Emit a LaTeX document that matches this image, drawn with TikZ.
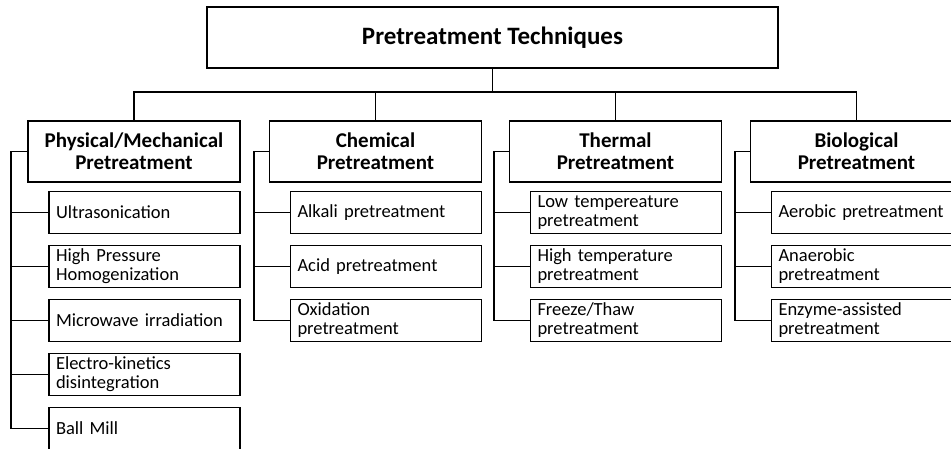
\documentclass[tikz,border=0pt]{standalone}
\usepackage{fontspec}
\setmainfont{Carlito}
\usetikzlibrary{positioning}
\tikzset{%
  % Specifications for style of nodes:
            base/.style = {rectangle, draw=black, line width=1.6pt,
                           inner sep=0pt},
      titlebox/.style = {base, minimum width=571pt, minimum height=61pt,
                           font=\fontsize{25}{30}\selectfont\bfseries},
        catbox/.style = {base, minimum width=212pt, minimum height=61pt,
                           align=center,
                           font=\fontsize{21}{22}\selectfont\bfseries},
        subbox/.style = {base, minimum width=191pt, minimum height=42pt,
                           text width=177pt, align=left, xshift=10.5pt,
                           font=\fontsize{18.5}{19}\selectfont},
          link/.style = {line width=1.6pt},
}
\begin{document}
\begin{tikzpicture}[x=1pt, y=-1pt, node distance=54pt]
  \useasboundingbox (0,0) rectangle (951,448);
  % Specification of nodes (position, etc.)

  \node (title)     [titlebox] at (492.5,37.5) {Pretreatment Techniques};

  \node (phys)      [catbox] at (134,151.5) {Physical/Mechanical\\Pretreatment};
  \node (chem)      [catbox] at (375.5,151.5) {Chemical\\Pretreatment};
  \node (therm)     [catbox] at (615.5,151.5) {Thermal\\Pretreatment};
  \node (bio)       [catbox] at (856.5,151.5) {Biological\\Pretreatment};

  \node (ultra)     [subbox, below of=phys, yshift=-7pt] {Ultrasonication};
  \node (hph)       [subbox, below of=ultra, xshift=-10.5pt] {High Pressure\\Homogenization};
  \node (micro)     [subbox, below of=hph, xshift=-10.5pt] {Microwave irradiation};
  \node (electro)   [subbox, below of=micro, xshift=-10.5pt] {Electro-kinetics\\disintegration};
  \node (ball)      [subbox, below of=electro, xshift=-10.5pt] {Ball Mill};

  \node (alkali)    [subbox, below of=chem, yshift=-7pt] {Alkali pretreatment};
  \node (acid)      [subbox, below of=alkali, xshift=-10.5pt] {Acid pretreatment};
  \node (oxid)      [subbox, below of=acid, xshift=-10.5pt] {Oxidation\\pretreatment};

  \node (lowtemp)   [subbox, below of=therm, yshift=-7pt] {Low tempereature\\pretreatment};
  \node (hightemp)  [subbox, below of=lowtemp, xshift=-10.5pt] {High temperature\\pretreatment};
  \node (freeze)    [subbox, below of=hightemp, xshift=-10.5pt] {Freeze/Thaw\\pretreatment};

  \node (aerobic)   [subbox, below of=bio, yshift=-7pt] {Aerobic pretreatment};
  \node (anaerobic) [subbox, below of=aerobic, xshift=-10.5pt] {Anaerobic\\pretreatment};
  \node (enzyme)    [subbox, below of=anaerobic, xshift=-10.5pt] {Enzyme-assisted\\pretreatment};

  % connectors
  \foreach \c in {phys,chem,therm,bio}
    \draw[link] (title.south) -- ++(0,23) -| (\c.north);

  \foreach \s in {ultra,hph,micro,electro,ball}
    \draw[link] (phys.west) -- ++(-16,0) |- (\s.west);
  \foreach \s in {alkali,acid,oxid}
    \draw[link] (chem.west) -- ++(-15,0) |- (\s.west);
  \foreach \s in {lowtemp,hightemp,freeze}
    \draw[link] (therm.west) -- ++(-15,0) |- (\s.west);
  \foreach \s in {aerobic,anaerobic,enzyme}
    \draw[link] (bio.west) -- ++(-15,0) |- (\s.west);

\end{tikzpicture}
\end{document}
